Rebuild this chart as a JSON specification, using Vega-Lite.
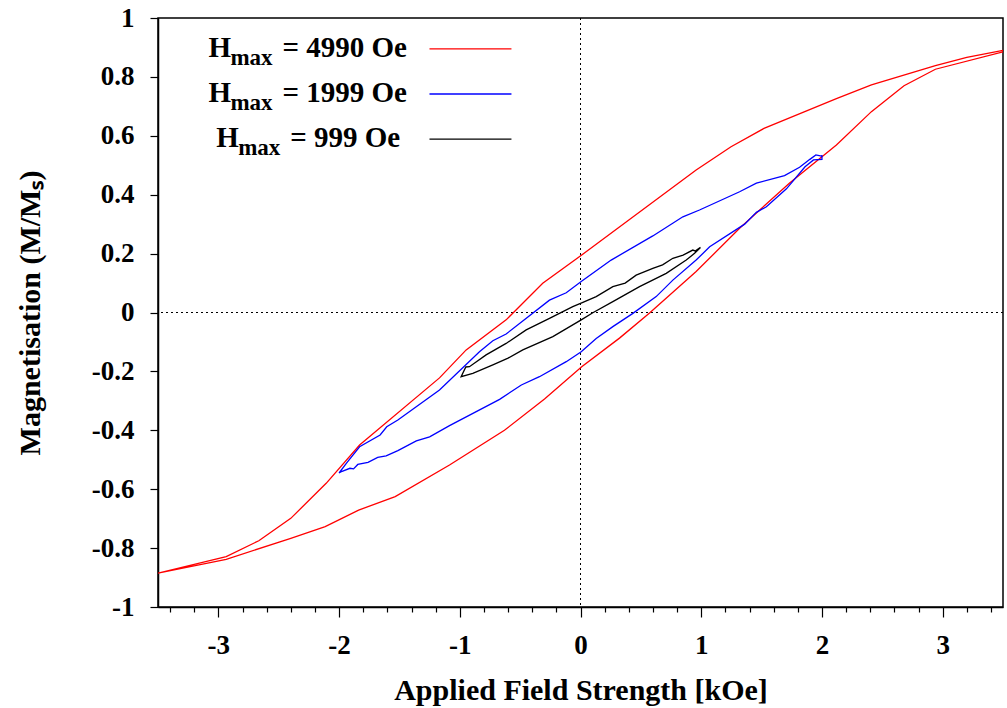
{
  "$schema": "https://vega.github.io/schema/vega-lite/v6.json",
  "autosize": "none",
  "width": 845,
  "height": 589,
  "padding": {"left": 158, "top": 18, "right": 4, "bottom": 101},
  "background": "white",
  "config": {
    "view": {"stroke": "black", "strokeWidth": 1.5},
    "axis": {
      "grid": false,
      "domainColor": "black",
      "domainWidth": 1.5,
      "tickColor": "black",
      "tickWidth": 1.2,
      "labelFont": "Liberation Serif",
      "labelFontWeight": "bold",
      "labelFontSize": 27,
      "labelColor": "black",
      "titleFont": "Liberation Serif",
      "titleFontWeight": "bold",
      "titleFontSize": 30,
      "titleColor": "black"
    },
    "text": {"font": "Liberation Serif", "fontWeight": "bold", "color": "black"}
  },
  "datasets": {
    "loops": [
      {"series": "4990", "i": 1, "H": 3.5, "M": 0.89},
      {"series": "4990", "i": 2, "H": 3.2, "M": 0.866},
      {"series": "4990", "i": 3, "H": 2.94, "M": 0.838},
      {"series": "4990", "i": 4, "H": 2.41, "M": 0.773},
      {"series": "4990", "i": 5, "H": 2.12, "M": 0.726},
      {"series": "4990", "i": 6, "H": 1.52, "M": 0.625},
      {"series": "4990", "i": 7, "H": 1.247, "M": 0.563},
      {"series": "4990", "i": 8, "H": 0.958, "M": 0.484},
      {"series": "4990", "i": 9, "H": 0.01, "M": 0.195},
      {"series": "4990", "i": 10, "H": -0.313, "M": 0.099},
      {"series": "4990", "i": 11, "H": -0.616, "M": -0.025},
      {"series": "4990", "i": 12, "H": -0.947, "M": -0.127},
      {"series": "4990", "i": 13, "H": -1.168, "M": -0.222},
      {"series": "4990", "i": 14, "H": -1.83, "M": -0.45},
      {"series": "4990", "i": 15, "H": -2.107, "M": -0.58},
      {"series": "4990", "i": 16, "H": -2.4, "M": -0.699},
      {"series": "4990", "i": 17, "H": -2.665, "M": -0.775},
      {"series": "4990", "i": 18, "H": -2.935, "M": -0.829},
      {"series": "4990", "i": 19, "H": -3.5, "M": -0.885},
      {"series": "4990", "i": 20, "H": -2.935, "M": -0.838},
      {"series": "4990", "i": 21, "H": -2.4, "M": -0.767},
      {"series": "4990", "i": 22, "H": -2.115, "M": -0.727},
      {"series": "4990", "i": 23, "H": -1.838, "M": -0.671},
      {"series": "4990", "i": 24, "H": -1.535, "M": -0.625},
      {"series": "4990", "i": 25, "H": -1.085, "M": -0.518},
      {"series": "4990", "i": 26, "H": -0.63, "M": -0.4},
      {"series": "4990", "i": 27, "H": -0.298, "M": -0.294},
      {"series": "4990", "i": 28, "H": 0.01, "M": -0.184},
      {"series": "4990", "i": 29, "H": 0.323, "M": -0.087},
      {"series": "4990", "i": 30, "H": 0.572, "M": -0.002},
      {"series": "4990", "i": 31, "H": 0.958, "M": 0.139},
      {"series": "4990", "i": 32, "H": 1.318, "M": 0.286},
      {"series": "4990", "i": 33, "H": 1.73, "M": 0.439},
      {"series": "4990", "i": 34, "H": 2.12, "M": 0.569},
      {"series": "4990", "i": 35, "H": 2.41, "M": 0.682},
      {"series": "4990", "i": 36, "H": 2.68, "M": 0.77},
      {"series": "4990", "i": 37, "H": 2.94, "M": 0.826},
      {"series": "4990", "i": 38, "H": 3.5, "M": 0.885},

      {"series": "1999", "i": 1, "H": 1.997, "M": 0.531},
      {"series": "1999", "i": 2, "H": 1.95, "M": 0.535},
      {"series": "1999", "i": 3, "H": 1.9, "M": 0.52},
      {"series": "1999", "i": 4, "H": 1.815, "M": 0.493},
      {"series": "1999", "i": 5, "H": 1.69, "M": 0.465},
      {"series": "1999", "i": 6, "H": 1.457, "M": 0.439},
      {"series": "1999", "i": 7, "H": 1.318, "M": 0.41},
      {"series": "1999", "i": 8, "H": 0.986, "M": 0.348},
      {"series": "1999", "i": 9, "H": 0.848, "M": 0.325},
      {"series": "1999", "i": 10, "H": 0.599, "M": 0.26},
      {"series": "1999", "i": 11, "H": 0.254, "M": 0.178},
      {"series": "1999", "i": 12, "H": 0.006, "M": 0.105},
      {"series": "1999", "i": 13, "H": -0.118, "M": 0.067},
      {"series": "1999", "i": 14, "H": -0.257, "M": 0.042},
      {"series": "1999", "i": 15, "H": -0.616, "M": -0.073},
      {"series": "1999", "i": 16, "H": -0.726, "M": -0.096},
      {"series": "1999", "i": 17, "H": -0.837, "M": -0.133},
      {"series": "1999", "i": 18, "H": -1.168, "M": -0.263},
      {"series": "1999", "i": 19, "H": -1.513, "M": -0.365},
      {"series": "1999", "i": 20, "H": -1.605, "M": -0.388},
      {"series": "1999", "i": 21, "H": -1.66, "M": -0.416},
      {"series": "1999", "i": 22, "H": -1.83, "M": -0.456},
      {"series": "1999", "i": 23, "H": -1.94, "M": -0.512},
      {"series": "1999", "i": 24, "H": -2.0, "M": -0.545},
      {"series": "1999", "i": 25, "H": -1.98, "M": -0.54},
      {"series": "1999", "i": 26, "H": -1.91, "M": -0.529},
      {"series": "1999", "i": 27, "H": -1.88, "M": -0.531},
      {"series": "1999", "i": 28, "H": -1.845, "M": -0.516},
      {"series": "1999", "i": 29, "H": -1.76, "M": -0.509},
      {"series": "1999", "i": 30, "H": -1.68, "M": -0.492},
      {"series": "1999", "i": 31, "H": -1.61, "M": -0.487},
      {"series": "1999", "i": 32, "H": -1.513, "M": -0.469},
      {"series": "1999", "i": 33, "H": -1.36, "M": -0.436},
      {"series": "1999", "i": 34, "H": -1.25, "M": -0.422},
      {"series": "1999", "i": 35, "H": -1.085, "M": -0.384},
      {"series": "1999", "i": 36, "H": -0.67, "M": -0.295},
      {"series": "1999", "i": 37, "H": -0.49, "M": -0.246},
      {"series": "1999", "i": 38, "H": -0.34, "M": -0.218},
      {"series": "1999", "i": 39, "H": -0.118, "M": -0.167},
      {"series": "1999", "i": 40, "H": 0.006, "M": -0.133},
      {"series": "1999", "i": 41, "H": 0.13, "M": -0.088},
      {"series": "1999", "i": 42, "H": 0.268, "M": -0.048},
      {"series": "1999", "i": 43, "H": 0.434, "M": -0.003},
      {"series": "1999", "i": 44, "H": 0.627, "M": 0.054},
      {"series": "1999", "i": 45, "H": 0.765, "M": 0.11},
      {"series": "1999", "i": 46, "H": 0.958, "M": 0.178},
      {"series": "1999", "i": 47, "H": 1.07, "M": 0.223},
      {"series": "1999", "i": 48, "H": 1.36, "M": 0.3},
      {"series": "1999", "i": 49, "H": 1.457, "M": 0.34},
      {"series": "1999", "i": 50, "H": 1.54, "M": 0.359},
      {"series": "1999", "i": 51, "H": 1.706, "M": 0.42},
      {"series": "1999", "i": 52, "H": 1.86, "M": 0.495},
      {"series": "1999", "i": 53, "H": 1.93, "M": 0.518},
      {"series": "1999", "i": 54, "H": 2.0, "M": 0.52},
      {"series": "1999", "i": 55, "H": 2.0, "M": 0.535},

      {"series": "999", "i": 1, "H": 0.994, "M": 0.221},
      {"series": "999", "i": 2, "H": 0.95, "M": 0.209},
      {"series": "999", "i": 3, "H": 0.93, "M": 0.212},
      {"series": "999", "i": 4, "H": 0.85, "M": 0.195},
      {"series": "999", "i": 5, "H": 0.765, "M": 0.184},
      {"series": "999", "i": 6, "H": 0.68, "M": 0.162},
      {"series": "999", "i": 7, "H": 0.599, "M": 0.15},
      {"series": "999", "i": 8, "H": 0.461, "M": 0.127},
      {"series": "999", "i": 9, "H": 0.37, "M": 0.1},
      {"series": "999", "i": 10, "H": 0.268, "M": 0.088},
      {"series": "999", "i": 11, "H": 0.13, "M": 0.054},
      {"series": "999", "i": 12, "H": 0.01, "M": 0.033},
      {"series": "999", "i": 13, "H": -0.064, "M": 0.02},
      {"series": "999", "i": 14, "H": -0.257, "M": -0.02},
      {"series": "999", "i": 15, "H": -0.45, "M": -0.059},
      {"series": "999", "i": 16, "H": -0.616, "M": -0.105},
      {"series": "999", "i": 17, "H": -0.782, "M": -0.144},
      {"series": "999", "i": 18, "H": -0.92, "M": -0.184},
      {"series": "999", "i": 19, "H": -0.95, "M": -0.185},
      {"series": "999", "i": 20, "H": -0.989, "M": -0.218},
      {"series": "999", "i": 21, "H": -0.892, "M": -0.207},
      {"series": "999", "i": 22, "H": -0.726, "M": -0.178},
      {"series": "999", "i": 23, "H": -0.6, "M": -0.155},
      {"series": "999", "i": 24, "H": -0.478, "M": -0.127},
      {"series": "999", "i": 25, "H": -0.229, "M": -0.082},
      {"series": "999", "i": 26, "H": 0.006, "M": -0.025},
      {"series": "999", "i": 27, "H": 0.102, "M": -0.001},
      {"series": "999", "i": 28, "H": 0.268, "M": 0.037},
      {"series": "999", "i": 29, "H": 0.489, "M": 0.088},
      {"series": "999", "i": 30, "H": 0.71, "M": 0.133},
      {"series": "999", "i": 31, "H": 0.876, "M": 0.178},
      {"series": "999", "i": 32, "H": 0.945, "M": 0.201},
      {"series": "999", "i": 33, "H": 0.994, "M": 0.221}
    ]
  },
  "resolve": {"scale": {"x": "shared", "y": "shared"}, "axis": {"x": "independent"}},
  "layer": [
    {
      "data": {"values": [{}]},
      "mark": {"type": "rule", "color": "black", "strokeWidth": 1, "strokeDash": [2, 3]},
      "encoding": {
        "x": {"datum": 0, "type": "quantitative", "scale": {"domain": [-3.5, 3.5], "nice": false, "zero": false},
          "axis": {"orient": "bottom", "values": [-3.4, -3.2, -2.8, -2.6, -2.4, -2.2, -1.8, -1.6, -1.4, -1.2, -0.8, -0.6, -0.4, -0.2, 0.2, 0.4, 0.6, 0.8, 1.2, 1.4, 1.6, 1.8, 2.2, 2.4, 2.6, 2.8, 3.2, 3.4], "labels": false, "tickSize": 5, "domain": false, "title": null}}
      }
    },
    {
      "data": {"values": [{}]},
      "mark": {"type": "rule", "color": "black", "strokeWidth": 1, "strokeDash": [2, 3]},
      "encoding": {
        "y": {"datum": 0, "type": "quantitative"}
      }
    },
    {
      "data": {"name": "loops"},
      "mark": {"type": "line", "strokeWidth": 1.3, "clip": true},
      "encoding": {
        "x": {"field": "H", "type": "quantitative", "scale": {"domain": [-3.5, 3.5], "nice": false, "zero": false},
          "axis": {"orient": "bottom", "values": [-3, -2, -1, 0, 1, 2, 3], "labelExpr": "'' + datum.value", "tickSize": 10, "labelPadding": 15, "title": "Applied Field Strength [kOe]", "titlePadding": 17}},
        "y": {"field": "M", "type": "quantitative", "scale": {"domain": [-1, 1], "nice": false, "zero": false},
          "axis": {"values": [-1, -0.8, -0.6, -0.4, -0.2, 0, 0.2, 0.4, 0.6, 0.8, 1], "labelExpr": "'' + datum.value", "tickSize": 8, "labelPadding": 16, "labelFlush": false, "labelOverlap": false, "title": "Magnetisation (M/Mₛ)", "titlePadding": 46}},
        "color": {"field": "series", "type": "nominal", "scale": {"domain": ["4990", "1999", "999"], "range": ["#ff0000", "#0000ff", "#000000"]}, "legend": null},
        "order": {"field": "i", "type": "quantitative"},
        "detail": {"field": "series"}
      }
    },
    {
      "data": {"values": [{}]},
      "mark": {"type": "rule", "color": "#ff0000", "strokeWidth": 1.3},
      "encoding": {"x": {"datum": -1.251, "axis": null}, "x2": {"datum": -0.572}, "y": {"datum": 0.895}}
    },
    {
      "data": {"values": [{}]},
      "mark": {"type": "rule", "color": "#0000ff", "strokeWidth": 1.3},
      "encoding": {"x": {"datum": -1.251, "axis": null}, "x2": {"datum": -0.572}, "y": {"datum": 0.742}}
    },
    {
      "data": {"values": [{}]},
      "mark": {"type": "rule", "color": "#000000", "strokeWidth": 1.3},
      "encoding": {"x": {"datum": -1.251, "axis": null}, "x2": {"datum": -0.572}, "y": {"datum": 0.589}}
    },
    {
      "data": {"values": [{}]},
      "mark": {"type": "text", "text": "H", "fontSize": 29, "align": "left", "baseline": "alphabetic"},
      "encoding": {"x": {"datum": -3.082, "axis": null}, "y": {"datum": 0.867}}
    },
    {
      "data": {"values": [{}]},
      "mark": {"type": "text", "text": "max", "fontSize": 23, "align": "left", "baseline": "alphabetic", "dx": 22, "dy": 8},
      "encoding": {"x": {"datum": -3.082, "axis": null}, "y": {"datum": 0.867}}
    },
    {
      "data": {"values": [{}]},
      "mark": {"type": "text", "text": "= 4990 Oe", "fontSize": 29, "align": "left", "baseline": "alphabetic", "dx": 74},
      "encoding": {"x": {"datum": -3.082, "axis": null}, "y": {"datum": 0.867}}
    },
    {
      "data": {"values": [{}]},
      "mark": {"type": "text", "text": "H", "fontSize": 29, "align": "left", "baseline": "alphabetic"},
      "encoding": {"x": {"datum": -3.082, "axis": null}, "y": {"datum": 0.714}}
    },
    {
      "data": {"values": [{}]},
      "mark": {"type": "text", "text": "max", "fontSize": 23, "align": "left", "baseline": "alphabetic", "dx": 22, "dy": 8},
      "encoding": {"x": {"datum": -3.082, "axis": null}, "y": {"datum": 0.714}}
    },
    {
      "data": {"values": [{}]},
      "mark": {"type": "text", "text": "= 1999 Oe", "fontSize": 29, "align": "left", "baseline": "alphabetic", "dx": 74},
      "encoding": {"x": {"datum": -3.082, "axis": null}, "y": {"datum": 0.714}}
    },
    {
      "data": {"values": [{}]},
      "mark": {"type": "text", "text": "H", "fontSize": 29, "align": "left", "baseline": "alphabetic"},
      "encoding": {"x": {"datum": -3.018, "axis": null}, "y": {"datum": 0.561}}
    },
    {
      "data": {"values": [{}]},
      "mark": {"type": "text", "text": "max", "fontSize": 23, "align": "left", "baseline": "alphabetic", "dx": 22, "dy": 8},
      "encoding": {"x": {"datum": -3.018, "axis": null}, "y": {"datum": 0.561}}
    },
    {
      "data": {"values": [{}]},
      "mark": {"type": "text", "text": "= 999 Oe", "fontSize": 29, "align": "left", "baseline": "alphabetic", "dx": 74},
      "encoding": {"x": {"datum": -3.018, "axis": null}, "y": {"datum": 0.561}}
    }
  ]
}
